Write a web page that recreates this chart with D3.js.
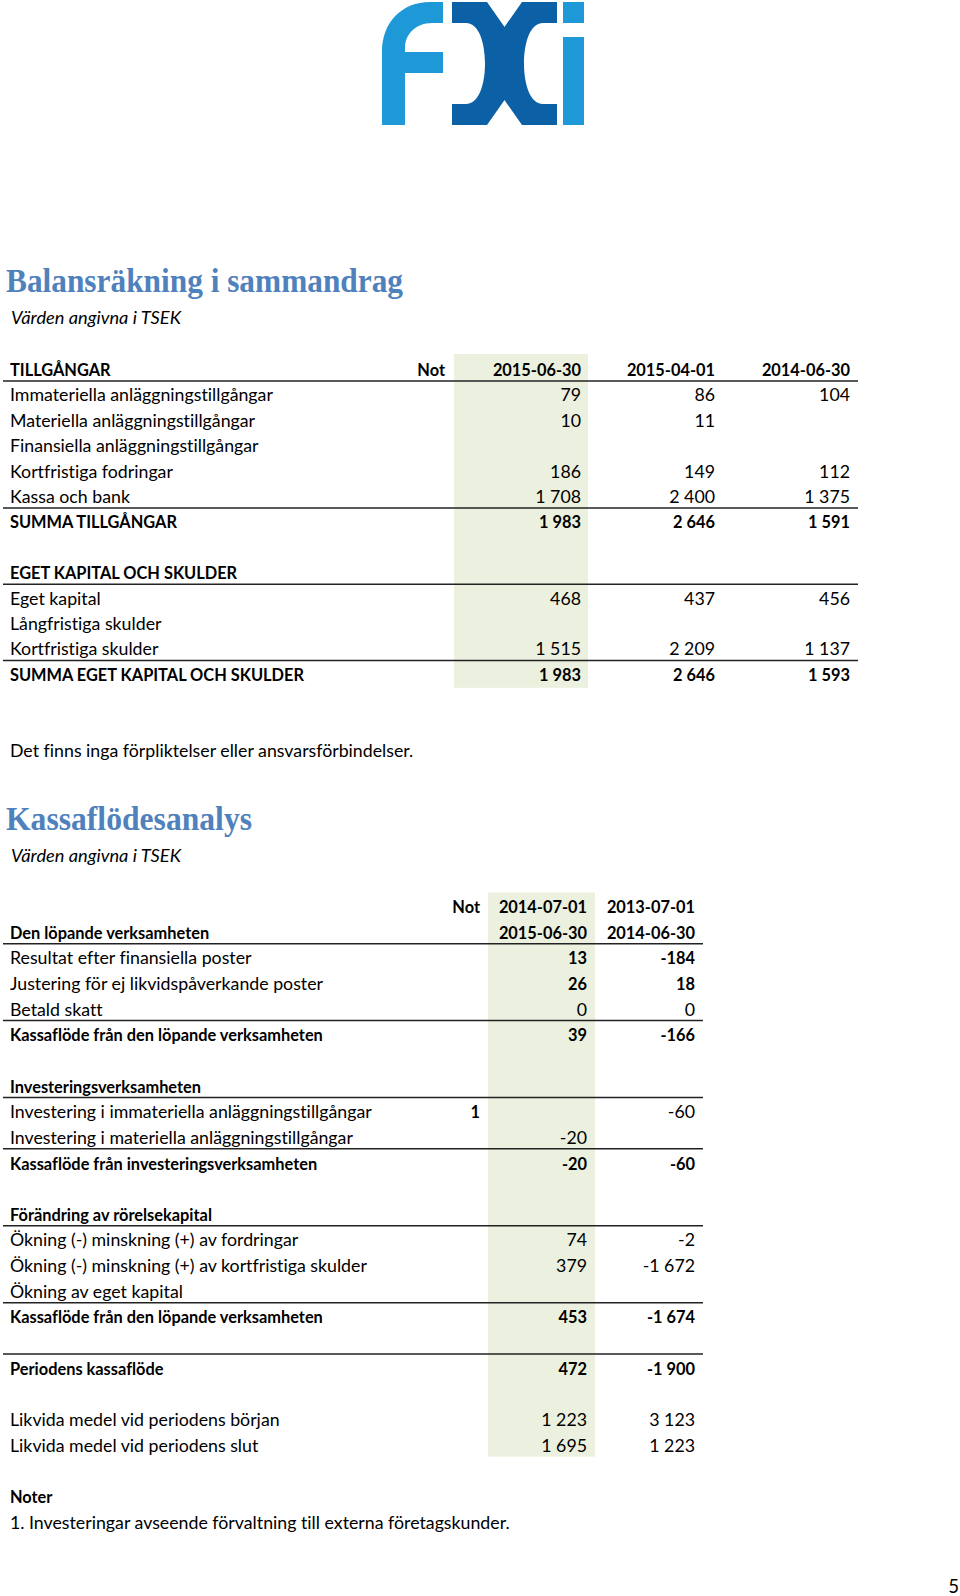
<!DOCTYPE html>
<html>
<head>
<meta charset="utf-8">
<script src="https://cdn.jsdelivr.net/npm/d3@7"></script>
<style>
body { margin: 0; background: #fff; }
svg { display: block; }
text { font-variant-ligatures: none; font-feature-settings: "liga" 0, "clig" 0; }
</style>
</head>
<body>
<svg id="page" width="960" height="1596"></svg>
<script>
//////////////////////////
// Balansräkning - data
//////////////////////////
var balansRader = ["TILLGÅNGAR", "Immateriella anläggningstillgångar", "Materiella anläggningstillgångar",
  "Finansiella anläggningstillgångar", "Kortfristiga fodringar", "Kassa och bank", "SUMMA TILLGÅNGAR", "",
  "EGET KAPITAL OCH SKULDER", "Eget kapital", "Långfristiga skulder", "Kortfristiga skulder",
  "SUMMA EGET KAPITAL OCH SKULDER"];
var balansTyp = ["rubrik", "post", "post", "post", "post", "post", "summa", "tom",
  "rubrik", "post", "post", "post", "summa"];
var balansKolumner = ["Not", "2015-06-30", "2015-04-01", "2014-06-30"];
var balans20150630 = [null, 79, 10, null, 186, 1708, 1983, null, null, 468, null, 1515, 1983];
var balans20150401 = [null, 86, 11, null, 149, 2400, 2646, null, null, 437, null, 2209, 2646];
var balans20140630 = [null, 104, null, null, 112, 1375, 1591, null, null, 456, null, 1137, 1593];

//////////////////////////
// Kassaflödesanalys - data
//////////////////////////
var kassaRader = ["", "Den löpande verksamheten", "Resultat efter finansiella poster",
  "Justering för ej likvidspåverkande poster", "Betald skatt", "Kassaflöde från den löpande verksamheten", "",
  "Investeringsverksamheten", "Investering i immateriella anläggningstillgångar",
  "Investering i materiella anläggningstillgångar", "Kassaflöde från investeringsverksamheten", "",
  "Förändring av rörelsekapital", "Ökning (-) minskning (+) av fordringar",
  "Ökning (-) minskning (+) av kortfristiga skulder", "Ökning av eget kapital",
  "Kassaflöde från den löpande verksamheten", "", "Periodens kassaflöde", "",
  "Likvida medel vid periodens början", "Likvida medel vid periodens slut"];
var kassaTyp = ["kolumnrubrik", "rubrik", "nyckel", "nyckel", "post", "summa", "tom",
  "rubrik", "post", "post", "summa", "tom",
  "rubrik", "post", "post", "post", "summa", "tom", "summa", "tom", "post", "post"];
var kassaKolumner = ["Not", "2014-07-01", "2013-07-01"];
var kassaPeriodSlut = ["", "2015-06-30", "2014-06-30"];
var kassaNot = [null, null, null, null, null, null, null, null, 1, null, null, null,
  null, null, null, null, null, null, null, null, null, null];
var kassa2015 = [null, null, 13, 26, 0, 39, null, null, null, -20, -20, null,
  null, 74, 379, null, 453, null, 472, null, 1223, 1695];
var kassa2014 = [null, null, -184, 18, 0, -166, null, null, -60, null, -60, null,
  null, -2, -1672, null, -1674, null, -1900, null, 3123, 1223];

var noter = ["Noter", "1. Investeringar avseende förvaltning till externa företagskunder."];

var svg = d3.select("#page");
var BODY = "Lato, 'Open Sans', sans-serif";
var HEAD = "'Liberation Serif', 'DejaVu Serif', serif";
var GREEN = "#ebf1de";
var BLUE = "#4f81bd";

// pick a font size so a string gets the width it has in the original
function fit(str, fam, weight, style, target) {
  var t = svg.append("text")
    .attr("font-family", fam).attr("font-weight", weight)
    .attr("font-style", style).attr("font-size", 100).text(str);
  var w = t.node().getComputedTextLength();
  t.remove();
  return 100 * target / w;
}
var fsBody = fit("Immateriella anläggningstillgångar", BODY, 400, "normal", 263);
var fsBold = fit("SUMMA EGET KAPITAL OCH SKULDER", BODY, 700, "normal", 294);
var fsItal = fit("Värden angivna i TSEK", BODY, 400, "italic", 170);

var fmt = d3.formatLocale({decimal: ",", thousands: "\u00a0", grouping: [3], currency: ["", ""], minus: "-"}).format(",d");

function txt(g, x, y, s, bold, anchor) {
  return g.append("text")
    .attr("x", x).attr("y", y)
    .attr("font-family", BODY)
    .attr("font-weight", bold ? 700 : 400)
    .attr("font-size", bold ? fsBold : fsBody)
    .attr("text-anchor", anchor || "start")
    .attr("fill", "#000")
    .text(s);
}

//////////////////////////
// logo
//////////////////////////
var logo = svg.append("g");
logo.append("path")
  .attr("d", "M382,125 V52 C382,22 402,2 430,2 H443 V23 H432 C416,23 405,34 405,48 V52 H443 V73 H405 V125 Z")
  .attr("fill", "#1e98d6");
var xPiece = "M452,2 H487 L513,39 Q523,52 523,63.5 Q523,75 513,88 L487,125 H452 V104 H466 " +
  "C479,104 485,84 485,63.5 C485,43 479,23 466,23 H452 Z";
logo.append("path").attr("d", xPiece).attr("fill", "#0c60a6");
logo.append("path").attr("d", xPiece).attr("fill", "#0c60a6")
  .attr("transform", "translate(1009,0) scale(-1,1)");
logo.append("rect").attr("x", 563).attr("y", 2).attr("width", 21).attr("height", 21).attr("fill", "#1e98d6");
logo.append("rect").attr("x", 563).attr("y", 37).attr("width", 21).attr("height", 88).attr("fill", "#1e98d6");

//////////////////////////
// headings
//////////////////////////
function heading(y, s, w) {
  svg.append("text").attr("x", 6).attr("y", y)
    .attr("font-family", HEAD).attr("font-weight", 700).attr("font-size", 33)
    .attr("textLength", w).attr("lengthAdjust", "spacingAndGlyphs")
    .attr("fill", BLUE).text(s);
  svg.append("text").attr("x", 11).attr("y", y + 32)
    .attr("font-family", BODY).attr("font-style", "italic").attr("font-size", fsItal)
    .attr("fill", "#000").text("Värden angivna i TSEK");
}
heading(292, "Balansräkning i sammandrag", 397);
heading(830, "Kassaflödesanalys", 246);

//////////////////////////
// Balansräkning
//////////////////////////
var yB = d3.scaleLinear().domain([0, 1]).range([376, 376 + 25.4]);
var xB = d3.scaleOrdinal().domain(balansKolumner).range([445, 581, 715, 850]);
var gB = svg.append("g");

gB.append("rect")
  .attr("x", xB(balansKolumner[1]) - 127).attr("width", 134)
  .attr("y", yB(0) - 22).attr("height", yB(balansRader.length - 1) + 7 - (yB(0) - 22))
  .attr("fill", GREEN);

var linjerB = [];
balansTyp.forEach(function(t, i) {
  if (t == "rubrik") linjerB.push(i);
  if (t == "summa") linjerB.push(i - 1);
});
gB.selectAll("line.rule").data(linjerB).join("line")
  .attr("x1", 3).attr("x2", 858)
  .attr("y1", function(d) { return yB(d) + 5; })
  .attr("y2", function(d) { return yB(d) + 5; })
  .attr("stroke", "#222").attr("stroke-width", 1.5);

balansRader.forEach(function(s, i) {
  if (s) txt(gB, 10, yB(i), s, balansTyp[i] != "post");
});
balansKolumner.forEach(function(k) { txt(gB, xB(k), yB(0), k, true, "end"); });

[[balansKolumner[1], balans20150630], [balansKolumner[2], balans20150401], [balansKolumner[3], balans20140630]]
  .forEach(function(c) {
    c[1].forEach(function(v, i) {
      if (v != null) txt(gB, xB(c[0]), yB(i), fmt(v), balansTyp[i] == "summa", "end");
    });
  });

txt(svg, 10, yB(15), "Det finns inga förpliktelser eller ansvarsförbindelser.", false);

//////////////////////////
// Kassaflödesanalys
//////////////////////////
var yK = d3.scaleLinear().domain([0, 1]).range([913, 913 + 25.65]);
var xK = d3.scaleOrdinal().domain(kassaKolumner).range([480, 587, 695]);
var gK = svg.append("g");

gK.append("rect")
  .attr("x", xK(kassaKolumner[1]) - 99).attr("width", 107)
  .attr("y", yK(0) - 20.5).attr("height", yK(kassaRader.length - 1) + 5 - (yK(0) - 20.5))
  .attr("fill", GREEN);

var linjerK = [];
kassaTyp.forEach(function(t, i) {
  if (t == "rubrik") linjerK.push(i);
  if (t == "summa") linjerK.push(i - 1);
});
gK.selectAll("line.rule").data(linjerK).join("line")
  .attr("x1", 3).attr("x2", 703)
  .attr("y1", function(d) { return yK(d) + 5; })
  .attr("y2", function(d) { return yK(d) + 5; })
  .attr("stroke", "#222").attr("stroke-width", 1.5);

kassaRader.forEach(function(s, i) {
  if (s) txt(gK, 10, yK(i), s, kassaTyp[i] == "rubrik" || kassaTyp[i] == "summa");
});
kassaKolumner.forEach(function(k, j) {
  txt(gK, xK(k), yK(0), k, true, "end");
  if (kassaPeriodSlut[j]) txt(gK, xK(k), yK(1), kassaPeriodSlut[j], true, "end");
});

kassaNot.forEach(function(v, i) {
  if (v != null) txt(gK, xK("Not"), yK(i), String(v), true, "end");
});
[[kassaKolumner[1], kassa2015], [kassaKolumner[2], kassa2014]].forEach(function(c) {
  c[1].forEach(function(v, i) {
    if (v != null) txt(gK, xK(c[0]), yK(i), fmt(v), kassaTyp[i] == "summa" || kassaTyp[i] == "nyckel", "end");
  });
});

txt(svg, 10, yK(kassaRader.length + 1), noter[0], true);
txt(svg, 10, yK(kassaRader.length + 2), noter[1], false);

// page number
svg.append("text").attr("x", 959).attr("y", 1593)
  .attr("font-family", BODY).attr("font-size", fsBody * 1.05)
  .attr("text-anchor", "end").text("5");
</script>
</body>
</html>
